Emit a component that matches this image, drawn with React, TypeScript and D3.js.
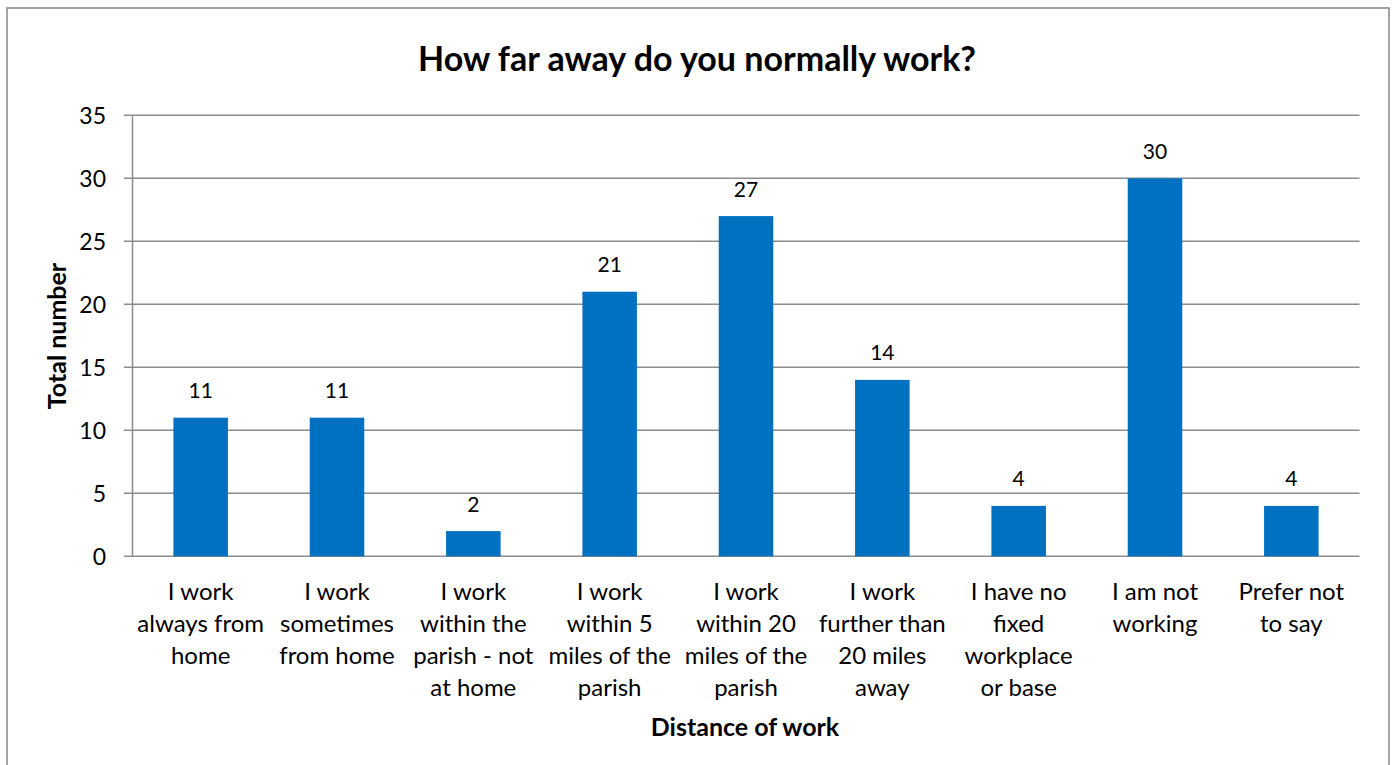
import React from "react";
import * as d3 from "d3";

const categories: string[] = [
  "I work\nalways from\nhome",
  "I work\nsometimes\nfrom home",
  "I work\nwithin the\nparish - not\nat home",
  "I work\nwithin 5\nmiles of the\nparish",
  "I work\nwithin 20\nmiles of the\nparish",
  "I work\nfurther than\n20 miles\naway",
  "I have no\nfixed\nworkplace\nor base",
  "I am not\nworking",
  "Prefer not\nto say",
];
const values: number[] = [11, 11, 2, 21, 27, 14, 4, 30, 4];
const yTicks: number[] = [0, 5, 10, 15, 20, 25, 30, 35];
const title = "How far away do you normally work?";
const xTitle = "Distance of work";
const yTitle = "Total number";

const FONT = "Lato, 'Open Sans', sans-serif";

export default function App() {
  const W = 1395, H = 765;
  const left = 132.5, right = 1359.5, top = 115.3, bottom = 556.3;
  const x = d3.scaleBand<string>().domain(categories).range([left, right]).paddingInner(0.6).paddingOuter(0.3);
  const y = d3.scaleLinear().domain([0, 35]).range([bottom, top]);
  const grid = "#8c8c8c";
  return (
    <svg width={W} height={H} style={{ position: "absolute", left: 0, top: 0 }} fontFamily={FONT}>
      <rect x={0} y={0} width={W} height={H} fill="#fff" />
      <rect x={7} y={8} width={1382} height={800} fill="#fff" stroke="#868686" strokeWidth={1.5} />
      <text x={697} y={57} textAnchor="middle" dominantBaseline="central" fontSize={34} fontWeight="bold" fill="#000">{title}</text>
      {yTicks.map((t) => (
        <g key={t}>
          <line x1={124} x2={right} y1={y(t)} y2={y(t)} stroke={grid} strokeWidth={1.5} />
          <text x={106} y={y(t)} textAnchor="end" dominantBaseline="central" fontSize={23} fill="#000">{t}</text>
        </g>
      ))}
      <line x1={left} x2={left} y1={top} y2={bottom} stroke={grid} strokeWidth={1.5} />
      {categories.map((c, i) => (
        <g key={c}>
          <rect x={x(c)!} y={y(values[i])} width={x.bandwidth()} height={bottom - y(values[i])} fill="#0070c0" />
          <text x={x(c)! + x.bandwidth() / 2} y={y(values[i]) - 28} textAnchor="middle" dominantBaseline="central" fontSize={21} fill="#000">{values[i]}</text>
          {c.split("\n").map((ln, j) => (
            <text key={j} x={x(c)! + x.bandwidth() / 2} y={590 + j * 32.3} textAnchor="middle" dominantBaseline="central" fontSize={24} fill="#000">{ln}</text>
          ))}
        </g>
      ))}
      <text x={745} y={726} textAnchor="middle" dominantBaseline="central" fontSize={25} fontWeight="bold" fill="#000">{xTitle}</text>
      <text transform={`translate(56,336) rotate(-90)`} textAnchor="middle" dominantBaseline="central" fontSize={25} fontWeight="bold" fill="#000">{yTitle}</text>
    </svg>
  );
}
